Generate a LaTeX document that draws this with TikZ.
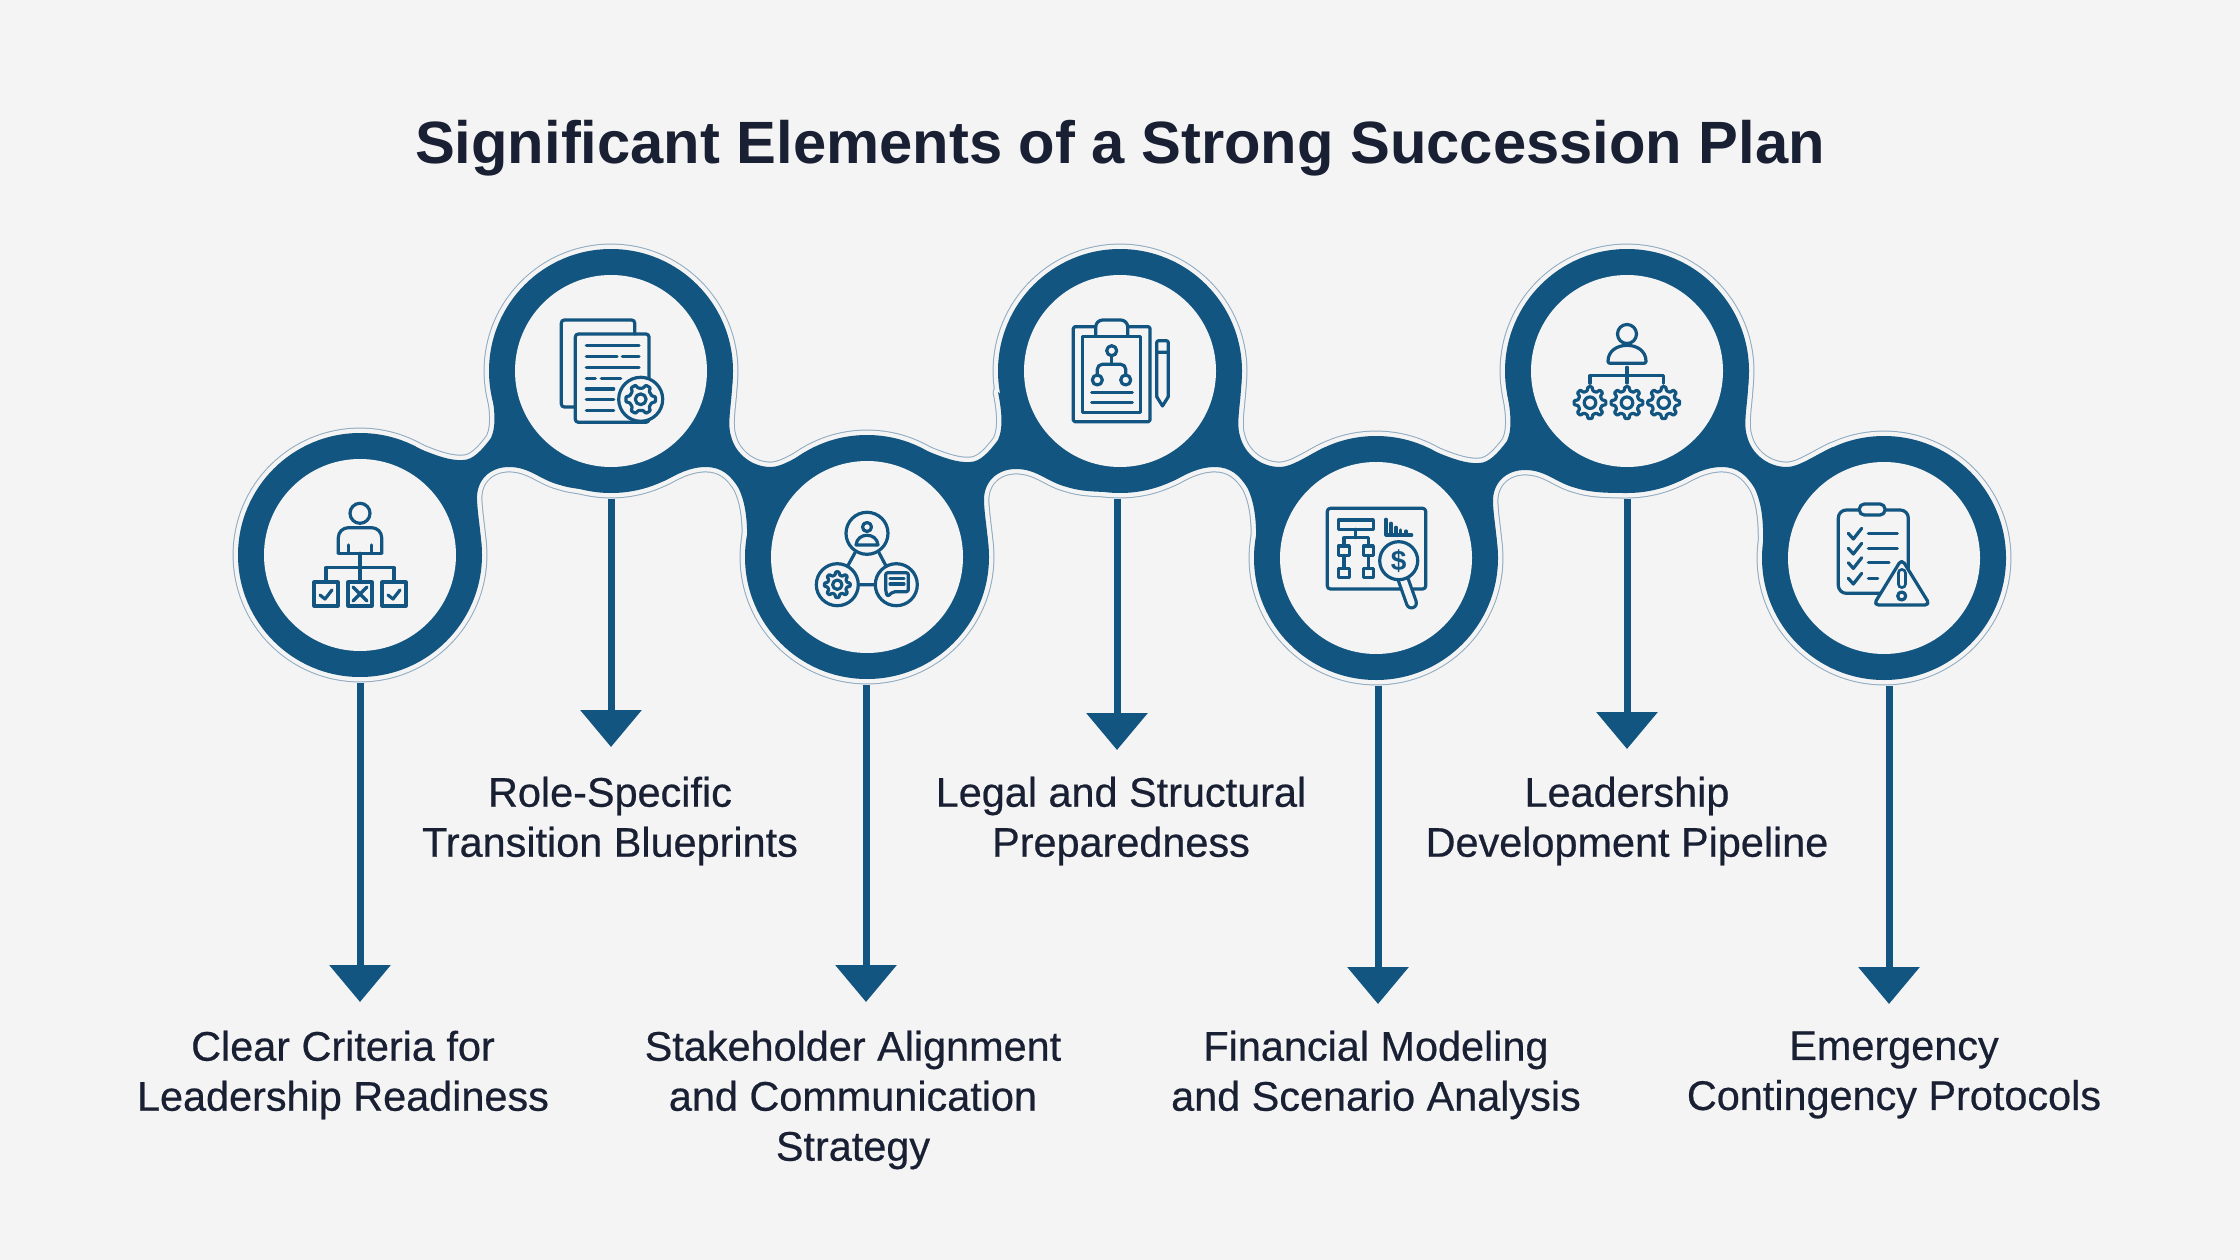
\documentclass[tikz,border=0pt]{standalone}
\usepackage{fontspec}
\setmainfont{Liberation Sans}
\newfontfamily\labelfont[FakeBold=0.5]{Liberation Sans}
\usetikzlibrary{arrows.meta}
\definecolor{bgcol}{HTML}{F4F4F4}
\definecolor{chain}{HTML}{125580}
\definecolor{rimline}{HTML}{8FAAC0}
\definecolor{inkcol}{HTML}{1A2033}
\tikzset{
  hub/.style={circle, fill=bgcol, minimum size=192pt, inner sep=0pt, outer sep=32pt},
  flow/.style={draw=chain, line width=7pt, -{Triangle[width=60pt,length=37pt]}},
  lab/.style={align=center, text=inkcol, font=\labelfont\fontsize{41.4}{50}\selectfont},
  iconline/.style={draw=chain, line width=3.2pt, line cap=round, line join=round},
  iconfill/.style={iconline, fill=bgcol}
}
\newcommand{\upneck}{(60,-106) .. controls (75,-100) and (90,-94) .. (103,-95) .. controls (113,-95) and (122,-105) .. (131,-117) .. controls (137,-130) and (134,-150) .. (131,-165) -- (251,-65) .. controls (235,-65) and (215,-65) .. (200,-70) .. controls (180,-75) and (170,-88) .. (149,-88) .. controls (130,-88) and (116,-75) .. (117,-55) .. controls (118,-35) and (122,-20) .. (121,0) -- cycle}
\newcommand{\downneck}{(121,0) .. controls (123,25) and (115,50) .. (120,65) .. controls (124,82) and (140,96) .. (160,96) .. controls (172,96) and (188,84) .. (206,76) -- (136,190) .. controls (136,165) and (138,140) .. (128,118) .. controls (120,104) and (110,96) .. (95,96) .. controls (78,96) and (65,104) .. (55,109) .. controls (38,116) and (18,121) .. (0,121) -- cycle}
\newcommand{\chainparts}[1]{
  \foreach \x/\y in {360/555, 611/371, 867/557, 1120/371, 1376/558, 1627/371, 1884/558}
    \path[#1] (\x,\y) circle[radius=122];
  \foreach \x/\y in {360/555, 867/557, 1376/558}
    \path[#1, shift={(\x,\y)}] \upneck;
  \foreach \x/\y in {611/371, 1120/371, 1627/371}
    \path[#1, shift={(\x,\y)}] \downneck;
}
\newcommand{\gearicon}[4]{
  \pgfmathtruncatemacro{\gearlast}{#4-1}
  \begin{scope}[shift={(#1,#2)}]
    \draw[iconfill, rounded corners=0.8pt] ({-0.5*360/#4}:{0.76*#3})
      \foreach \t in {0,...,\gearlast} {
        -- ({(\t-0.3)*360/#4}:{0.76*#3}) -- ({(\t-0.16)*360/#4}:#3)
        -- ({(\t+0.16)*360/#4}:#3) -- ({(\t+0.3)*360/#4}:{0.76*#3})
      } -- cycle;
    \draw[iconline] (0,0) circle[radius={0.36*#3}];
  \end{scope}
}
\begin{document}
\begin{tikzpicture}[x=1pt, y=-1pt]
  \fill[bgcol] (0,0) rectangle (2240,1260);
  \useasboundingbox (0,0) rectangle (2240,1260);
  \node[text=inkcol, font=\bfseries\fontsize{59.7}{70}\selectfont] (title) at (1120,148) {Significant Elements of a Strong Succession Plan};

  % chain with its thin rim
  \chainparts{draw=rimline, line width=10.8pt, line join=round}
  \chainparts{draw=bgcol, line width=8.8pt, line join=round}
  \chainparts{fill=chain}
  \foreach \i/\x/\y in {1/360/555, 2/611/371, 3/867/557, 4/1120/371, 5/1376/558, 6/1627/371, 7/1884/558}
    \node[hub] (hub\i) at (\x,\y) {};

  % arrows
  \foreach \i/\x/\y in {1/360/1002, 2/611/747, 3/866/1002, 4/1117/750, 5/1378/1004, 6/1627/749, 7/1889/1004}{
    \coordinate (tip\i) at (\x,\y);
    \draw[flow] (tip\i |- hub\i.south) -- (tip\i);
  }

  \node[lab] (lab1) at (343,1075) {Clear Criteria for\\Leadership Readiness};
  \node[lab] (lab2) at (610,821) {Role-Specific\\Transition Blueprints};
  \node[lab] (lab3) at (853,1100) {Stakeholder Alignment\\and Communication\\Strategy};
  \node[lab] (lab4) at (1121,821) {Legal and Structural\\Preparedness};
  \node[lab] (lab5) at (1376,1075) {Financial Modeling\\and Scenario Analysis};
  \node[lab] (lab6) at (1627,821) {Leadership\\Development Pipeline};
  \node[lab] (lab7) at (1894,1075) {Emergency\\Contingency Protocols};

  % icon 1
  \begin{scope}[shift={(hub1.center)}]
    \draw[iconline] (0,-41.7) circle[radius=10];
    \draw[iconline, rounded corners=10pt] (-21.7,-1.7) -- (-21.7,-27.3) -- (21.7,-27.3) -- (21.7,-1.7);
    \draw[iconline] (-21.7,-1.7) -- (21.7,-1.7);
    \draw[iconline] (-11.7,-10) -- (-11.7,-1.7) (11.7,-10) -- (11.7,-1.7);
    \draw[iconline] (0,-1.7) -- (0,26.7) (-34,26.7) -- (-34,12.7) -- (34,12.7) -- (34,26.7);
    \foreach \bx in {-34,0,34}
      \draw[iconline] (\bx-12,27) rectangle (\bx+12,51);
    \foreach \bx in {-34,34}
      \draw[iconline] (\bx-6,40) -- (\bx-1,44) -- (\bx+6,35);
    \draw[iconline] (-7,32) -- (7,46) (7,32) -- (-7,46);
  \end{scope}

  % icon 2
  \begin{scope}[shift={(hub2.center)}]
    \draw[iconline, rounded corners=3pt] (23.7,-37) -- (23.7,-51) -- (-49.7,-51) -- (-49.7,36) -- (-35.7,36);
    \draw[iconline, rounded corners=3pt] (-35.7,-37) rectangle (38,51.3);
    \draw[iconline] (-24.7,-25.3) -- (28,-25.3) (-24.7,-14.3) -- (6,-14.3) (11.3,-14.3) -- (28,-14.3)
      (-24.7,-3.7) -- (28,-3.7) (-24.7,7.3) -- (-15.7,7.3) (-9.7,7.3) -- (9.7,7.3)
      (-24.7,18) -- (2.7,18) (-24.7,28.7) -- (2.7,28.7) (-24.7,39.3) -- (2.7,39.3);
    \draw[iconfill] (29.7,28.3) circle[radius=22];
    \gearicon{29.7}{28.3}{15}{6}
  \end{scope}

  % icon 3
  \begin{scope}[shift={(hub3.center)}]
    \draw[iconline] (0,-23.7) circle[radius=21] (-29.7,27.7) circle[radius=21] (29.3,27.7) circle[radius=21];
    \draw[iconline] (-12,-4.3) -- (-19.3,9) (12,-4.3) -- (19,9) (-8.7,27.7) -- (8.3,27.7);
    \draw[iconline] (0,-30) circle[radius=4.5];
    \draw[iconline] (-11,-12) .. controls (-10,-25) and (10,-25) .. (11,-12) -- cycle;
    \gearicon{-29.7}{27.7}{13}{8}
    \draw[iconline, rounded corners=2pt] (18.7,15.7) -- (41.3,15.7) -- (41.3,34.7) -- (26,34.7) -- (20.5,39.5) -- (18.7,34.7) -- cycle;
    \draw[iconline] (23,21.5) -- (37,21.5) (23,27) -- (37,27);
  \end{scope}

  % icon 4
  \begin{scope}[shift={(hub4.center)}]
    \draw[iconline, rounded corners=1.5pt] (-24.3,-44.3) -- (-46.7,-44.3) -- (-46.7,50.7) -- (30,50.7) -- (30,-44.3) -- (7.7,-44.3);
    \draw[iconline] (-37.3,-34.3) rectangle (20.7,41.3);
    \draw[iconline, rounded corners=7pt] (-24.3,-36) -- (-24.3,-51) -- (7.7,-51) -- (7.7,-36);
    \draw[iconline] (-8.3,-20.3) circle[radius=5] (-22.7,9) circle[radius=5] (5.7,9) circle[radius=5];
    \draw[iconline] (-8.3,-15.3) -- (-8.3,-6.7);
    \draw[iconline, rounded corners=5pt] (-22.7,4) -- (-22.7,-6.7) -- (5.7,-6.7) -- (5.7,4);
    \draw[iconline] (-28.3,21.7) -- (12.3,21.7) (-28.3,31.3) -- (12.3,31.3);
    \draw[iconline, rounded corners=2pt] (36.7,25.7) -- (36.7,-30.3) -- (48.3,-30.3) -- (48.3,25.7);
    \draw[iconline] (36.7,25.7) -- (42.5,35) -- (48.3,25.7) (36.7,-18.7) -- (48.3,-18.7);
  \end{scope}

  % icon 5
  \begin{scope}[shift={(hub5.center)}]
    \draw[iconline, rounded corners=3pt] (-48.7,-49.7) rectangle (49.7,31);
    \draw[iconline] (-37.7,-38) rectangle (-2.7,-28.7);
    \draw[iconline] (-20.3,-28.7) -- (-20.3,-20.3) (-32,-12) -- (-32,-20.3) -- (-7.7,-20.3) -- (-7.7,-12);
    \draw[iconline] (-37.7,-12) rectangle (-26.7,-2.3) (-12.7,-12) rectangle (-2.7,-2.3)
      (-37.7,10.3) rectangle (-26.7,19.3) (-12.7,10.3) rectangle (-2.7,19.3);
    \draw[iconline] (-32,-2.3) -- (-32,10.3) (-7.7,-2.3) -- (-7.7,10.3);
    \draw[iconline] (10,-38.7) -- (10,-23) -- (35.7,-23);
    \draw[iconline] (15,-34.7) -- (15,-23) (20,-30.7) -- (20,-23) (24.7,-28) -- (24.7,-23) (30,-27) -- (30,-23);
    \draw[chain, line width=13pt, line cap=round] (27,21) -- (35.5,45);
    \draw[bgcol, line width=6.6pt, line cap=round] (27,21) -- (35.5,45);
    \draw[iconfill] (22.7,2.7) circle[radius=19];
    \node[text=chain, font=\bfseries\fontsize{28}{28}\selectfont] (dollar) at (22.7,2.7) {\$};
  \end{scope}

  % icon 6
  \begin{scope}[shift={(hub6.center)}]
    \draw[iconline] (0,-37) circle[radius=9.5];
    \draw[iconline, rounded corners=2pt] (-19,-7.7) .. controls (-19,-31) and (19,-31) .. (19,-7.7) -- cycle;
    \draw[iconline] (0,-3.7) -- (0,12) (-37,12.3) -- (-37,4.7) -- (36.7,4.7) -- (36.7,12.3);
    \foreach \gx in {-37,0,36.7}{
      \gearicon{\gx}{31.7}{16}{8}
    }
  \end{scope}

  % icon 7
  \begin{scope}[shift={(hub7.center)}]
    \draw[iconline, rounded corners=8pt] (-45.7,-48) rectangle (24.3,35.3);
    \draw[iconfill, rounded corners=5pt] (-24.7,-54) rectangle (1,-43);
    \foreach \ry in {-24.7,-9.7,4.7,20.3}
      \draw[iconline] (-35.7,\ry) -- (-30.7,\ry+5.7) -- (-22.3,\ry-5);
    \draw[iconline] (-15.7,-24.7) -- (13.3,-24.7) (-15.7,-9.7) -- (13.3,-9.7) (-15.7,4.7) -- (5,4.7) (-15.7,20.3) -- (-6.3,20.3);
    \draw[iconfill, rounded corners=5pt] (17.7,1) -- (46,47) -- (-10.5,47) -- cycle;
    \draw[chain, line width=10pt, line cap=round] (17.7,15) -- (17.7,26);
    \draw[bgcol, line width=4pt, line cap=round] (17.7,15) -- (17.7,26);
    \draw[iconline] (17.7,38) circle[radius=4];
  \end{scope}
\end{tikzpicture}
\end{document}
